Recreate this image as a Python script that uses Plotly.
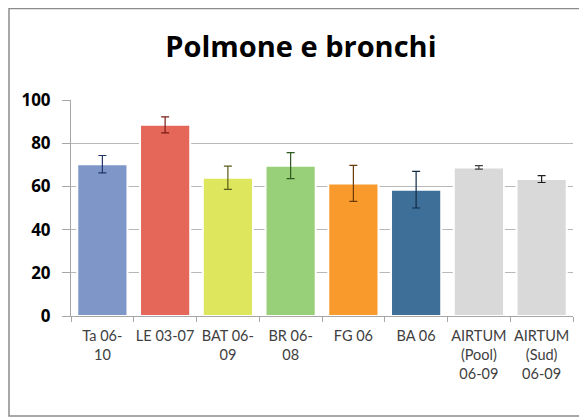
import plotly.graph_objects as go

# dati
categorie = ["Ta 06-<br>10", "LE 03-07", "BAT 06-<br>09", "BR 06-<br>08", "FG 06", "BA 06",
             "AIRTUM<br>(Pool)<br>06-09", "AIRTUM<br>(Sud)<br>06-09"]
valori = [70.3, 88.5, 64.0, 69.6, 61.4, 58.5, 68.8, 63.4]
errori = [4.0, 3.7, 5.4, 6.0, 8.3, 8.5, 0.8, 1.6]
colori = ["#7f96c9", "#e5675a", "#dde65c", "#98cf79", "#f89b2c", "#3d6f98", "#d9d9d9", "#d9d9d9"]
colori_err = ["#24356a", "#7a1c14", "#5a5a1a", "#2f5a1f", "#6a3a08", "#102a45", "#404040", "#202020"]

fig = go.Figure()
for cat, val, err, col, cerr in zip(categorie, valori, errori, colori, colori_err):
    fig.add_trace(go.Bar(
        x=[cat], y=[val],
        marker=dict(color=col, line=dict(color="white", width=2)),
        error_y=dict(type="data", array=[err], color=cerr, thickness=1.2, width=4),
        showlegend=False,
    ))

# la pagina ha 8px di margine sul body: i margini tengono conto di questo
fig.update_layout(
    width=587, height=417,
    margin=dict(l=63, r=22, t=92, b=109),
    paper_bgcolor="white", plot_bgcolor="white",
    barmode="overlay", bargap=0.2,
    font=dict(family="Lato, 'Open Sans', sans-serif", color="#404040"),
    title=dict(text="<b>Polmone e bronchi</b>", x=0.499, xanchor="center", y=0.906, yanchor="middle",
               font=dict(size=29, color="black", family="'Open Sans', sans-serif")),
    shapes=[dict(type="rect", xref="paper", yref="paper", x0=-0.1235, x1=1.06, y0=-0.463, y1=1.424,
                 line=dict(color="#8c8c8c", width=1.5))],
)
fig.update_xaxes(
    categoryorder="array", categoryarray=categorie,
    showline=True, linecolor="#a6a6a6", linewidth=1,
    ticks="outside", tickson="boundaries", ticklen=5, tickcolor="#a6a6a6",
    ticklabelstandoff=7,
    tickangle=0, tickfont=dict(size=14.5, color="#404040"),
)
fig.update_yaxes(
    range=[0, 100], dtick=20,
    showline=True, linecolor="#a6a6a6", linewidth=1,
    showgrid=True, gridcolor="#b8b8b8", gridwidth=1,
    ticks="outside", ticklen=8, tickcolor="#a6a6a6",
    ticklabelstandoff=8,
    tickprefix="<b>", ticksuffix="</b>",
    tickfont=dict(size=17, color="black", family="'Open Sans', sans-serif"),
    zeroline=False,
)

fig.write_html("out.html")
